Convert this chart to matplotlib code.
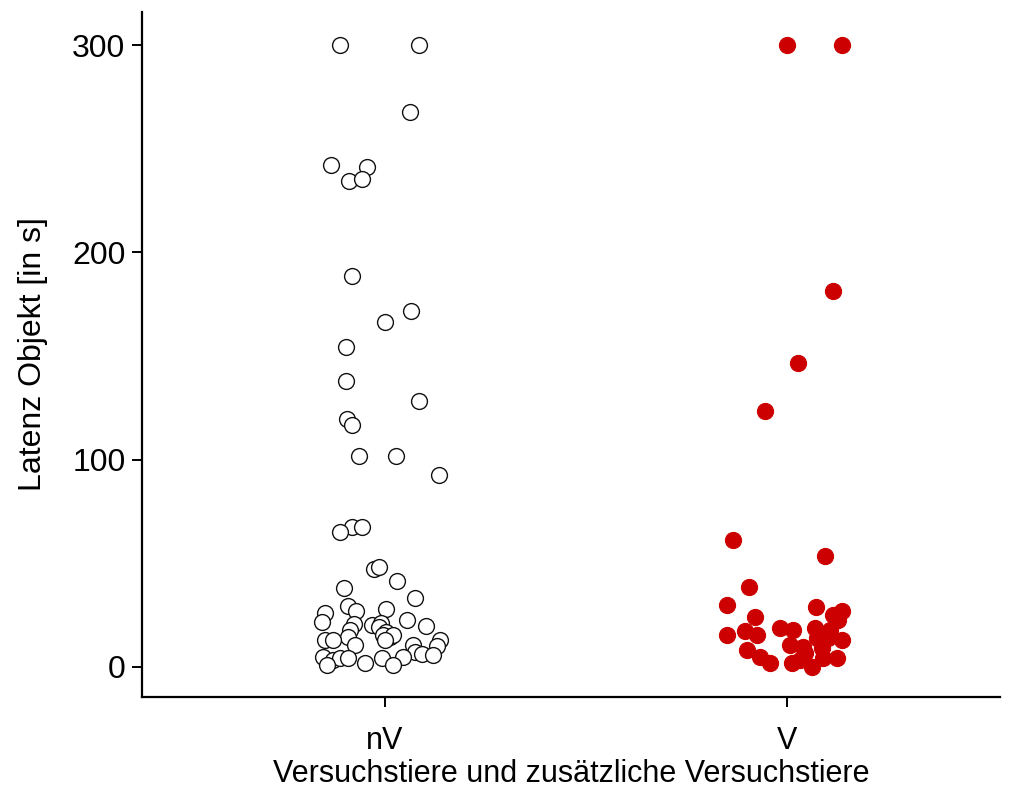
import matplotlib
matplotlib.use("Agg")
from matplotlib import pyplot as plt

plt.rcParams["font.family"] = ["Liberation Sans", "DejaVu Sans"]

groups = ["nV", "V"]

# nV: jitter offset (x, in category units) and latency [s]
nv_dx = [-0.112, 0.085, 0.062, -0.134, -0.045, -0.090, -0.057, -0.082, 0.000, 0.065,
         -0.097, -0.097, 0.085, -0.095, -0.082, -0.065, 0.027, 0.134, -0.082, -0.057,
         -0.112, -0.027, -0.015, 0.030, -0.102, 0.075, -0.092, -0.072, 0.002, -0.149,
         -0.157, 0.055, -0.077, -0.032, -0.010, 0.102, -0.087, -0.015, 0.002, 0.012,
         -0.092, -0.005, 0.020, -0.149, -0.129, -0.075, 0.000, 0.137, 0.129, 0.070,
         0.075, 0.092, 0.119, 0.045, -0.154, -0.129, -0.112, -0.092, -0.144, -0.050,
         -0.007, 0.020]
nv_y = [300, 300, 267.7, 242.1, 241.2, 234.4, 235.4, 188.6, 166.4, 171.7,
        154.3, 137.9, 128.3, 119.6, 116.7, 101.8, 101.8, 92.6, 67.5, 67.5,
        65.1, 47.3, 48.2, 41.5, 38.1, 33.3, 29.4, 27.0, 28.0, 26.0,
        21.7, 22.7, 20.7, 20.3, 21.2, 19.8, 17.8, 19.3, 16.9, 14.5,
        14.5, 15.4, 15.4, 13.0, 13.0, 10.6, 13.0, 13.0, 10.1, 10.6,
        7.2, 6.3, 5.8, 4.8, 4.8, 3.4, 4.3, 4.3, 1.0, 1.9,
        4.3, 1.0]

# V: jitter offset and latency [s]
v_dx = [0.000, 0.137, 0.114, 0.027, -0.055, -0.134, 0.095, -0.095, -0.149, 0.072,
        0.137, 0.114, -0.080, 0.127, -0.149, -0.104, -0.017, 0.015, 0.070, 0.107,
        -0.075, 0.137, -0.100, 0.007, 0.040, 0.075, 0.087, -0.067, -0.042, 0.012,
        0.032, 0.062, 0.090, 0.124, 0.045, 0.102]
v_y = [300, 300, 181.4, 146.6, 123.5, 61.3, 53.5, 38.6, 29.9, 28.9,
       27.0, 25.1, 24.1, 22.7, 15.4, 17.4, 18.8, 17.8, 18.8, 17.8,
       15.4, 13.0, 8.2, 10.6, 9.6, 14.0, 9.2, 4.8, 1.9, 1.9,
       3.4, 0.0, 4.3, 4.3, 6.8, 14.0]

fig = plt.figure(figsize=(10.11, 7.90), dpi=100)
ax = fig.add_axes([0.1405, 0.1177, 0.8485, 0.8673])

ax.scatter([1 + d for d in nv_dx], nv_y, s=130, facecolors="white",
           edgecolors="#111111", linewidths=1.0, zorder=3)
ax.scatter([2 + d for d in v_dx], v_y, s=135, facecolors="#CC0000",
           edgecolors="#CC0000", linewidths=0.8, zorder=3)

ax.set_xlim(0.395, 2.53)
ax.set_ylim(-14.5, 316)
ax.set_xticks([1, 2])
ax.set_xticklabels(groups)
ax.set_yticks([0, 100, 200, 300])

for side in ["top", "right"]:
    ax.spines[side].set_visible(False)
for side in ["left", "bottom"]:
    ax.spines[side].set_linewidth(1.6)
ax.tick_params(axis="both", length=7, width=1.4, labelsize=23, colors="black")
ax.tick_params(axis="x", labelsize=22, pad=14)
ax.tick_params(axis="y", pad=5)

ax.set_ylabel("Latenz Objekt [in s]", fontsize=23, labelpad=17)
ax.set_xlabel("Versuchstiere und zusätzliche Versuchstiere", fontsize=22, labelpad=2)

fig.savefig("out.png", dpi=100)
